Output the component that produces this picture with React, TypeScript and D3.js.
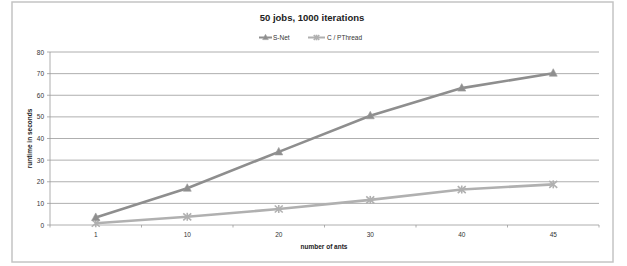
import * as d3 from "d3";
import React from "react";

const categories = ["1", "10", "20", "30", "40", "45"];
const snet = [3.5, 17, 33.8, 50.5, 63.3, 70.2];
const pthread = [0.8, 3.8, 7.4, 11.6, 16.4, 18.8];
const yTicks = [0, 10, 20, 30, 40, 50, 60, 70, 80];

const WIDTH = 627;
const HEIGHT = 266;
const PLOT = { left: 50, right: 599, top: 52, bottom: 225 };
const FONT = "Liberation Sans, Arial, sans-serif";

const SNET_COLOR = "#8e8e8e";
const PT_COLOR = "#b0b0b0";

const Triangle = ({ x, y, color, s = 1 }: { x: number; y: number; color: string; s?: number }) => (
  <path
    d={`M${x},${y - 4.5 * s}L${x + 4 * s},${y + 3 * s}L${x - 4 * s},${y + 3 * s}Z`}
    fill={color}
    stroke="#9a9a9a"
    strokeWidth={0.6}
  />
);

const Star = ({ x, y, color, s = 1 }: { x: number; y: number; color: string; s?: number }) => (
  <g stroke={color} strokeWidth={1.6}>
    <line x1={x - 4 * s} y1={y - 3.5 * s} x2={x + 4 * s} y2={y + 3.5 * s} />
    <line x1={x - 4 * s} y1={y + 3.5 * s} x2={x + 4 * s} y2={y - 3.5 * s} />
    <line x1={x} y1={y - 4 * s} x2={x} y2={y + 4 * s} />
  </g>
);

export default function App() {
  const x = d3.scaleBand<string>().domain(categories).range([PLOT.left, PLOT.right]);
  const y = d3.scaleLinear().domain([0, 80]).range([PLOT.bottom, PLOT.top]);
  const cx = (c: string) => x(c)! + x.bandwidth() / 2;

  const line = d3
    .line<number>()
    .x((_, i) => cx(categories[i]))
    .y((d) => y(d));

  // tick marks between categories, like a spreadsheet category axis
  const xTickPos = d3.range(categories.length + 1).map((i) => PLOT.left + i * x.step());

  return (
    <svg
      width={WIDTH}
      height={HEIGHT}
      style={{ position: "absolute", left: 0, top: 0, background: "#fff" }}
      fontFamily={FONT}
    >
      <rect x={12} y={2} width={601} height={260} fill="#fff" stroke="#c4c4c4" strokeWidth={1.5} />

      <text x={312} y={21} textAnchor="middle" fontSize={9.5} fontWeight="bold" fill="#222">
        50 jobs, 1000 iterations
      </text>

      {/* legend */}
      <g fontSize={6.5} fill="#333">
        <line x1={259} x2={272} y1={37.5} y2={37.5} stroke={SNET_COLOR} strokeWidth={2} />
        <Triangle x={265.5} y={37.5} color={SNET_COLOR} s={0.7} />
        <text x={273} y={40}>S-Net</text>
        <line x1={308} x2={325} y1={37.5} y2={37.5} stroke={PT_COLOR} strokeWidth={2} />
        <Star x={316.5} y={37.5} color={PT_COLOR} s={0.7} />
        <text x={327} y={40}>C / PThread</text>
      </g>

      {/* gridlines */}
      {yTicks.map((t) => (
        <g key={t}>
          {t > 0 && (
            <line x1={PLOT.left} x2={PLOT.right} y1={y(t)} y2={y(t)} stroke="#9a9a9a" strokeWidth={0.8} />
          )}
          <line x1={PLOT.left - 3} x2={PLOT.left} y1={y(t)} y2={y(t)} stroke="#9a9a9a" strokeWidth={0.8} />
          <text x={PLOT.left - 6} y={y(t) + 2.5} textAnchor="end" fontSize={6.5} fill="#333">
            {t}
          </text>
        </g>
      ))}

      {/* axes */}
      <line x1={PLOT.left} x2={PLOT.left} y1={PLOT.top} y2={PLOT.bottom} stroke="#9a9a9a" strokeWidth={0.8} />
      <line x1={PLOT.left} x2={PLOT.right} y1={PLOT.bottom} y2={PLOT.bottom} stroke="#9a9a9a" strokeWidth={0.8} />
      {xTickPos.map((p, i) => (
        <line key={i} x1={p} x2={p} y1={PLOT.bottom} y2={PLOT.bottom + 2.5} stroke="#9a9a9a" strokeWidth={0.8} />
      ))}
      {categories.map((c) => (
        <text key={c} x={cx(c)} y={PLOT.bottom + 12} textAnchor="middle" fontSize={6.5} fill="#333">
          {c}
        </text>
      ))}

      <text x={324} y={249} textAnchor="middle" fontSize={6.5} fontWeight="bold" fill="#222">
        number of ants
      </text>
      <text
        transform={`translate(32, ${(PLOT.top + PLOT.bottom) / 2}) rotate(-90)`}
        textAnchor="middle"
        fontSize={6.5}
        fontWeight="bold"
        fill="#222"
      >
        runtime in seconds
      </text>

      {/* series */}
      <path d={line(pthread)!} fill="none" stroke={PT_COLOR} strokeWidth={2.6} />
      {pthread.map((v, i) => (
        <Star key={i} x={cx(categories[i])} y={y(v)} color={PT_COLOR} />
      ))}
      <path d={line(snet)!} fill="none" stroke={SNET_COLOR} strokeWidth={2.6} />
      {snet.map((v, i) => (
        <Triangle key={i} x={cx(categories[i])} y={y(v)} color={SNET_COLOR} />
      ))}
    </svg>
  );
}
